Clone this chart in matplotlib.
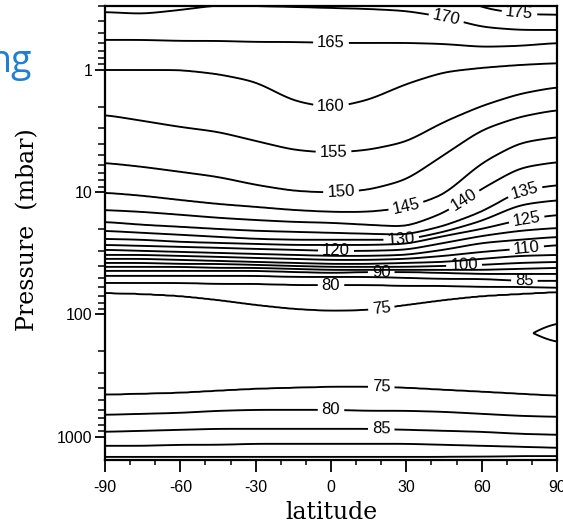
import numpy as np
import matplotlib
matplotlib.use("Agg")
import matplotlib.pyplot as plt
from matplotlib.ticker import FixedLocator, FixedFormatter, NullFormatter, MultipleLocator

plt.rcParams['font.family'] = ['Liberation Sans', 'DejaVu Sans']
plt.rcParams['axes.unicode_minus'] = False

# ---------------- data ----------------
lats = [-90, -75, -60, -45, -30, -15, 0, 15, 30, 45, 60, 75, 90]

# pressure (mbar) of each isotherm, stratospheric branch
p175 = [0.20, 0.20, 0.20, 0.20, 0.20, 0.20, 0.20, 0.20, 0.20, 0.22, 0.31, 0.348, 0.355]
p170 = [0.336, 0.348, 0.323, 0.295, 0.30, 0.305, 0.311, 0.317, 0.329, 0.369, 0.445, 0.471, 0.471]
p165 = [0.568, 0.568, 0.579, 0.579, 0.590, 0.590, 0.601, 0.601, 0.601, 0.613, 0.648, 0.636, 0.601]
p160 = [1.00, 1.00, 1.00, 1.08, 1.25, 1.79, 2.05, 1.76, 1.30, 1.04, 0.96, 0.91, 0.88]
p155 = [2.33, 2.61, 2.93, 3.21, 3.81, 4.51, 4.77, 4.51, 3.88, 2.66, 1.97, 1.57, 1.38]
p150 = [5.76, 6.21, 6.82, 7.50, 8.72, 9.76, 10.1, 9.58, 7.93, 4.95, 3.09, 2.42, 2.12]
p145 = [10.1, 10.7, 11.6, 12.5, 13.2, 14.0, 14.5, 14.5, 13.4, 10.5, 5.76, 3.95, 3.53]
p140 = [14.0, 14.5, 15.3, 16.2, 16.9, 17.5, 17.8, 18.5, 19.2, 14.8, 9.40, 6.33, 5.65]
p135 = [17.5, 18.5, 19.2, 20.0, 20.7, 21.1, 21.5, 21.9, 22.3, 18.9, 14.5, 9.76, 8.72]
p130 = [20.7, 21.5, 22.3, 23.2, 24.1, 24.5, 24.5, 24.5, 24.5, 21.1, 17.2, 12.7, 11.6]
p125 = [24.1, 24.5, 25.5, 26.0, 26.5, 27.0, 27.0, 27.0, 26.5, 22.8, 20.0, 16.9, 15.3]
p120 = [27.0, 27.5, 28.0, 28.5, 29.1, 29.6, 30.2, 30.2, 29.6, 26.0, 22.8, 20.7, 19.6]
p115 = [29.6, 30.2, 30.8, 31.4, 32.0, 32.6, 33.2, 33.2, 32.6, 29.6, 26.0, 24.5, 23.2]
p110 = [32.6, 32.6, 33.2, 33.8, 34.5, 35.1, 35.8, 35.8, 35.1, 33.2, 30.8, 29.1, 27.0]
p105 = [35.1, 35.1, 35.8, 36.5, 37.2, 37.9, 38.6, 38.6, 37.9, 37.2, 35.1, 33.2, 32.6]
p100 = [37.9, 37.9, 38.6, 38.6, 39.3, 40.1, 40.8, 40.8, 40.8, 40.1, 39.3, 37.9, 37.2]
p95 = [40.8, 40.8, 40.8, 41.6, 41.6, 42.4, 43.2, 43.2, 43.2, 43.2, 43.2, 42.4, 41.6]
p90 = [44.0, 44.0, 44.0, 44.0, 44.0, 44.9, 45.7, 44.9, 44.9, 45.7, 46.6, 46.6, 46.6]
p85 = [48.3, 48.3, 48.3, 48.3, 48.3, 49.3, 49.3, 49.3, 50.2, 51.2, 51.2, 53.1, 53.1]
p80 = [55.2, 55.2, 55.2, 56.2, 56.2, 57.3, 57.3, 57.3, 58.4, 58.4, 59.5, 59.5, 60.6]
p75 = [66.6, 67.9, 70.5, 76.0, 83.5, 90.0, 93.4, 91.7, 83.5, 76.0, 70.5, 67.9, 65.4]

# temperature minimum (tropopause)
p_min = [177, 177, 177, 177, 177, 177, 177, 177, 177, 177, 161, 147, 134]
t_min = [72, 72, 72, 72, 72, 72, 72, 72, 72, 72, 71.5, 70.7, 68.8]

# tropospheric branch
p75_low = [454, 446, 438, 421, 406, 398, 391, 391, 398, 414, 429, 446, 463]
p80_low = [662, 650, 638, 614, 603, 603, 603, 614, 614, 626, 650, 675, 688]
p85_low = [912, 895, 878, 862, 862, 862, 862, 862, 878, 895, 912, 947, 965]
p90_low = [1187, 1187, 1165, 1165, 1143, 1143, 1143, 1143, 1143, 1165, 1187, 1209, 1233]
p95_low = [1460, 1460, 1460, 1460, 1460, 1460, 1460, 1460, 1460, 1460, 1450, 1440, 1440]

upper_levels = [175, 170, 165, 160, 155, 150, 145, 140, 135, 130, 125, 120,
                115, 110, 105, 100, 95, 90, 85, 80, 75]
upper_rows = [p175, p170, p165, p160, p155, p150, p145, p140, p135, p130, p125,
              p120, p115, p110, p105, p100, p95, p90, p85, p80, p75]
lower_levels = [75, 80, 85, 90, 95]
lower_rows = [p75_low, p80_low, p85_low, p90_low, p95_low]

contour_levels = [70, 75, 80, 85, 90, 95, 100, 105, 110, 115, 120, 125,
                  130, 135, 140, 145, 150, 155, 160, 165, 170, 175]

x_ticks = [-90, -60, -30, 0, 30, 60, 90]
y_ticks = [1, 10, 100, 1000]
y_ticklabels = ['1', '10', '100', '1000']

# ---------------- build field ----------------
P_TOP, P_BOT = 0.3, 1550
lat_f = np.linspace(-90, 90, 361)
logp_f = np.linspace(np.log10(P_TOP), np.log10(P_BOT), 700)

kernel = np.bartlett(35)[1:-1]
kernel = kernel / kernel.sum()
half = len(kernel) // 2


def smooth(vals, log=True):
    v = np.log10(vals) if log else np.asarray(vals, float)
    lin = np.interp(lat_f, lats, v)
    padded = np.pad(lin, half, mode='edge')
    return np.convolve(padded, kernel, mode='valid')


U = [smooth(r) for r in upper_rows]
L = [smooth(r) for r in lower_rows]
PM = smooth(p_min)
TM = smooth(t_min, log=False)

T = np.empty((len(logp_f), len(lat_f)))
for j in range(len(lat_f)):
    xp = [np.log10(0.1)] + [u[j] for u in U] + [PM[j]] + [l[j] for l in L] + [np.log10(2000)]
    fp = [185] + upper_levels + [TM[j]] + lower_levels + [98]
    T[:, j] = np.interp(logp_f, xp, fp)
P = 10 ** logp_f

# ---------------- figure ----------------
fig = plt.figure(figsize=(5.63, 5.26), dpi=100)
ax = fig.add_axes([105 / 563, 1 - 460 / 526, 452 / 563, 454 / 526])
ax.set_yscale('log')
ax.set_xlim(-90, 90)
ax.set_ylim(P_BOT, P_TOP)

label_spots = [
    (175, 75, 0.35), (170, 46, 0.37), (165, 0, 0.59), (160, 0, 2.0),
    (155, 1, 4.7), (150, 4, 10.0), (145, 30, 13.4), (140, 53, 11.6),
    (135, 77, 9.4), (130, 28, 24.5), (125, 78, 17.2), (120, 2, 30.2),
    (110, 78, 29.1), (100, 53, 40.8), (90, 20, 44.9), (85, 77, 55),
    (80, 0, 58), (75, 20, 88), (75, 20, 398), (80, 0, 603), (85, 20, 878),
]
labelled = sorted(set(s[0] for s in label_spots))
plain = [lv for lv in contour_levels if lv not in labelled]

ax.contour(lat_f, P, T, levels=plain, colors='k', linewidths=1.35)
for lvl in labelled:
    cs = ax.contour(lat_f, P, T, levels=[lvl], colors='k', linewidths=1.35)
    pts = [(s[1], s[2]) for s in label_spots if s[0] == lvl]
    ax.clabel(cs, manual=pts, inline=True, inline_spacing=4,
              fmt='%d', fontsize=12, colors='k')

ax.set_xlim(-90, 90)
ax.set_ylim(P_BOT, P_TOP)
ax.xaxis.set_major_locator(FixedLocator(x_ticks))
ax.xaxis.set_major_formatter(FixedFormatter([str(v) for v in x_ticks]))
ax.xaxis.set_minor_locator(MultipleLocator(10))
ax.yaxis.set_major_locator(FixedLocator(y_ticks))
ax.yaxis.set_major_formatter(FixedFormatter(y_ticklabels))
ax.yaxis.set_minor_formatter(NullFormatter())

ax.tick_params(axis='x', which='major', direction='out', length=8.5, width=1.3,
               labelsize=11.5, pad=6)
ax.tick_params(axis='x', which='minor', direction='out', length=3.5, width=1.1)
ax.tick_params(axis='y', which='major', direction='out', length=7, width=1.3,
               labelsize=11.5, pad=2)
ax.tick_params(axis='y', which='minor', direction='out', length=5, width=1.1)
for s in ax.spines.values():
    s.set_linewidth(1.6)

fig.text(331 / 563, 1 - 519 / 526, 'latitude', family='DejaVu Serif',
         fontsize=17, ha='center', va='baseline')
fig.text(28 / 563, 1 - 230 / 526, 'Pressure  (mbar)', family='DejaVu Serif',
         fontsize=17, rotation=90, ha='center', va='center')
fig.text(32 / 563, 1 - 72 / 526, 'ng', family='Open Sans', fontsize=27,
         color='#1f7fd0', ha='right', va='baseline')

fig.savefig('out.png', dpi=100)
